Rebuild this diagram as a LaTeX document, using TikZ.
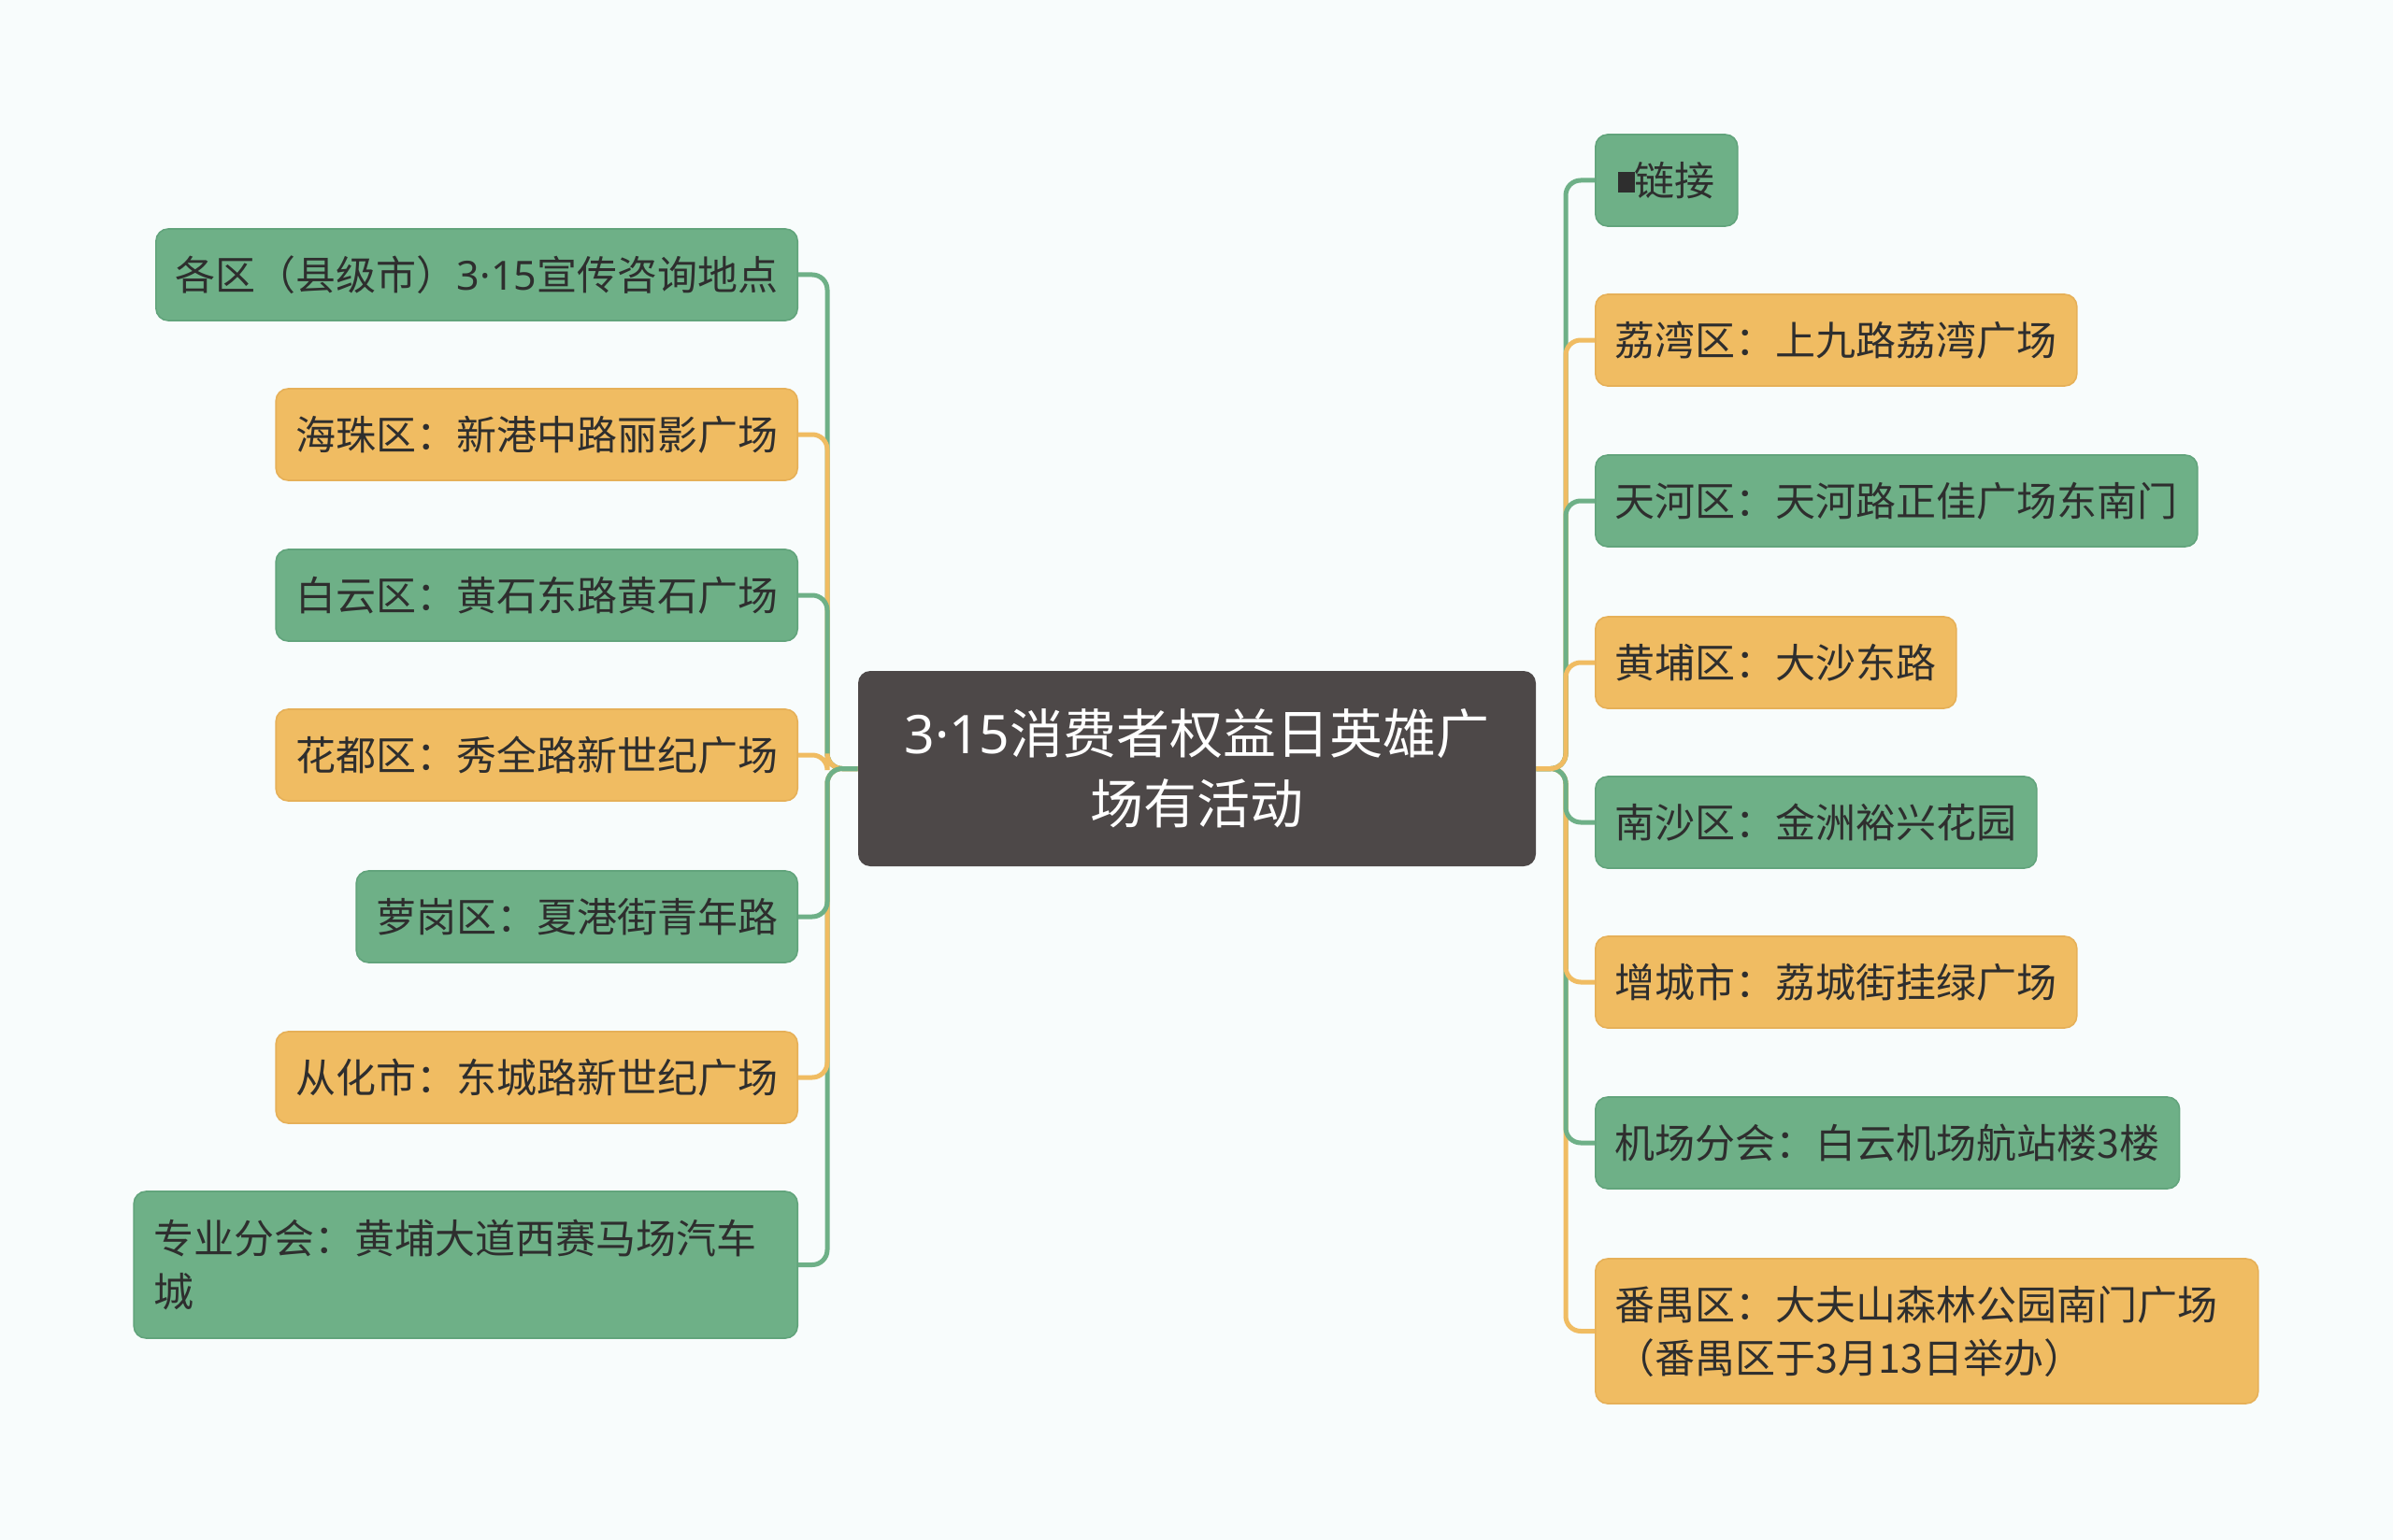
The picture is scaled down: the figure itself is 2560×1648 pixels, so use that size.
\documentclass[tikz,border=0pt]{standalone}
\usepackage{fontspec}
\setmainfont{Noto Sans CJK SC}
\newfontfamily\latfont{Noto Sans}
\definecolor{bg}{HTML}{F8FCFC}
\definecolor{gfill}{HTML}{6EB087}
\definecolor{gline}{HTML}{6EB087}
\definecolor{gdraw}{HTML}{62A47C}
\definecolor{ofill}{HTML}{F0BC62}
\definecolor{oline}{HTML}{F0BC62}
\definecolor{odraw}{HTML}{E6B058}
\definecolor{cfill}{HTML}{4D4848}
\definecolor{txt}{HTML}{2E2E2E}
\newcommand{\tfs}{{\latfont 3·15}}
\begin{document}
\begin{tikzpicture}[x=0.5pt,y=-0.5pt,
  box/.style={rounded corners=6.5pt, minimum height=49pt, inner xsep=10.5pt, inner ysep=0pt,
    text=txt, font=\fontsize{21.5}{28.5}\selectfont, align=left, line width=0.8pt},
  gbox/.style={box, fill=gfill, draw=gdraw},
  obox/.style={box, fill=ofill, draw=odraw},
  lnode/.style={anchor=east},
  rnode/.style={anchor=west},
  conn/.style={line width=2.5pt, rounded corners=8pt},
]
\fill[bg] (0,0) rectangle (2560,1648);
\useasboundingbox (0,0) rectangle (2560,1648);

% center
\node[fill=cfill, rounded corners=6.5pt, minimum width=362.5pt, minimum height=104.5pt,
  text=white, font=\fontsize{28.5}{37.5}\selectfont, align=center, inner sep=0pt]
  (c) at (1280.5,822.5) {\tfs 消费者权益日英雄广\\场有活动};

% left nodes
\node[gbox, lnode, minimum width=343pt] (L1) at (854,294) {各区（县级市）\tfs 宣传咨询地点};
\node[obox, lnode, minimum width=278.5pt] (L2) at (854,465) {海珠区：新港中路丽影广场};
\node[gbox, lnode, minimum width=278.5pt] (L3) at (854,637) {白云区：黄石东路黄石广场};
\node[obox, lnode, minimum width=278.5pt] (L4) at (854,808) {花都区：秀全路新世纪广场};
\node[gbox, lnode, minimum width=235pt] (L5) at (854,981) {萝岗区：夏港街青年路};
\node[obox, lnode, minimum width=278.5pt] (L6) at (854,1153) {从化市：东城路新世纪广场};
\node[gbox, lnode, text width=334pt, minimum height=78.5pt] (L7) at (854,1353.5)
  {专业分会：黄埔大道西赛马场汽车\\城};

% right nodes
\node[gbox, rnode, minimum width=76pt] (R1) at (1706,193) {\rule[0.08em]{0.42em}{0.5em}链接};
\node[obox, rnode, minimum width=257pt] (R2) at (1706,364) {荔湾区：上九路荔湾广场};
\node[gbox, rnode, minimum width=321pt] (R3) at (1706,536) {天河区：天河路正佳广场东南门};
\node[obox, rnode, minimum width=192pt] (R4) at (1706,709) {黄埔区：大沙东路};
\node[gbox, rnode, minimum width=235pt] (R5) at (1706,880) {南沙区：金洲裕兴花园};
\node[obox, rnode, minimum width=257pt] (R6) at (1706,1051) {增城市：荔城街挂绿广场};
\node[gbox, rnode, minimum width=312pt] (R7) at (1706,1223) {机场分会：白云机场航站楼3楼};
\node[obox, rnode, text width=333.5pt, minimum height=77.5pt] (R8) at (1706,1424.5)
  {番禺区：大夫山森林公园南门广场\\（番禺区于3月13日举办）};

\coordinate (lt) at (885,822.5);
\coordinate (rt) at (1675,822.5);

% left connectors (outermost first)
\draw[conn, gline] (c.west) -- (lt) |- (L1.east);
\draw[conn, gline] (c.west) -- (lt) |- (L7.east);
\draw[conn, oline] (c.west) -- (lt) |- (L2.east);
\draw[conn, oline] (c.west) -- (lt) |- (L6.east);
\draw[conn, gline] (c.west) -- (lt) |- (L3.east);
\draw[conn, oline] (c.west) -- (lt) |- (L4.east);
\draw[conn, gline] (c.west) -- (lt) |- (L5.east);

% right connectors
\draw[conn, gline] (c.east) -- (rt) |- (R1.west);
\draw[conn, oline] (c.east) -- (rt) |- (R8.west);
\draw[conn, oline] (c.east) -- (rt) |- (R2.west);
\draw[conn, gline] (c.east) -- (rt) |- (R7.west);
\draw[conn, gline] (c.east) -- (rt) |- (R3.west);
\draw[conn, oline] (c.east) -- (rt) |- (R6.west);
\draw[conn, gline] (c.east) -- (rt) |- (R5.west);
\draw[conn, oline] (c.east) -- (rt) |- (R4.west);
\end{tikzpicture}
\end{document}
